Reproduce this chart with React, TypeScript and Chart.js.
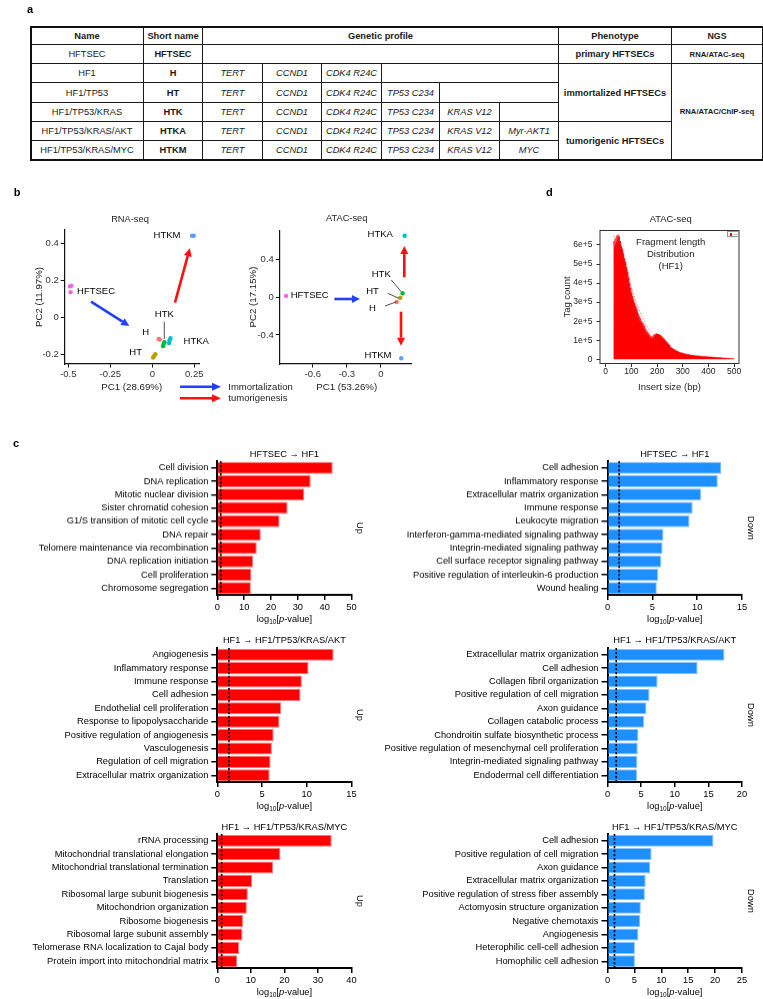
import React, { useEffect, useRef } from 'react';
import { Chart, registerables } from 'chart.js';

Chart.register(...registerables);

const FONT = '"Liberation Sans", Arial, Helvetica, sans-serif';
Chart.defaults.font.family = FONT;

/* ---------------- panel a : table ---------------- */
const tableHeaders = ['Name', 'Short name', 'Genetic profile', 'Phenotype', 'NGS'];
const lineNames = ['HFTSEC', 'HF1', 'HF1/TP53', 'HF1/TP53/KRAS', 'HF1/TP53/KRAS/AKT', 'HF1/TP53/KRAS/MYC'];
const lineShortNames = ['HFTSEC', 'H', 'HT', 'HTK', 'HTKA', 'HTKM'];
const geneProfiles = [
  [],
  ['TERT', 'CCND1', 'CDK4 R24C'],
  ['TERT', 'CCND1', 'CDK4 R24C', 'TP53 C234'],
  ['TERT', 'CCND1', 'CDK4 R24C', 'TP53 C234', 'KRAS V12'],
  ['TERT', 'CCND1', 'CDK4 R24C', 'TP53 C234', 'KRAS V12', 'Myr-AKT1'],
  ['TERT', 'CCND1', 'CDK4 R24C', 'TP53 C234', 'KRAS V12', 'MYC'],
];
const phenotypeText = ['primary HFTSECs', 'immortalized HFTSECs', 'tumorigenic HFTSECs'];
const phenotypeRows = [[0, 0], [1, 3], [4, 5]];
const ngsText = ['RNA/ATAC-seq', 'RNA/ATAC/ChIP-seq'];
const ngsRows = [[0, 0], [1, 5]];

/* ---------------- panel b : PCA ---------------- */
const groupNames = ['HFTSEC', 'H', 'HT', 'HTK', 'HTKA', 'HTKM'];
const groupColors = ['#F564E3', '#F8766D', '#B79F00', '#00BA38', '#00BFC4', '#619CFF'];

const rnaGroup = ['HFTSEC', 'HFTSEC', 'HFTSEC', 'H', 'H', 'HT', 'HT', 'HT', 'HTK', 'HTK', 'HTK', 'HTKA', 'HTKA', 'HTKA', 'HTKM', 'HTKM'];
const rnaPC1 = [-0.49, -0.482, -0.487, 0.038, 0.045, 0.005, 0.012, 0.018, 0.064, 0.068, 0.072, 0.1, 0.103, 0.108, 0.237, 0.247];
const rnaPC2 = [0.168, 0.172, 0.136, -0.117, -0.12, -0.218, -0.21, -0.2, -0.155, -0.145, -0.135, -0.14, -0.125, -0.113, 0.443, 0.443];
const rnaXTicks = [-0.5, -0.25, 0, 0.25];
const rnaYTicks = [-0.2, 0, 0.2, 0.4];

const atacGroup = ['HFTSEC', 'H', 'HT', 'HTK', 'HTKA', 'HTKM'];
const atacPC1 = [-0.835, 0.138, 0.17, 0.19, 0.208, 0.178];
const atacPC2 = [0.014, -0.05, -0.004, 0.043, 0.655, -0.648];
const atacXTicks = [-0.6, -0.3, 0];
const atacYTicks = [-0.4, 0, 0.4];

// annotation placements (data coordinates)
const rnaLabels: [string, number, number][] = [
  ['HTKM', 0.0875, 0.447], ['HFTSEC', -0.335, 0.143], ['HTK', 0.0714, 0.0168],
  ['H', -0.039, -0.083], ['HTKA', 0.262, -0.132], ['HT', -0.099, -0.1915],
];
const rnaLeaders = [[0.0714, -0.023, 0.0714, -0.117]];
const rnaArrows: [string, number, number, number, number][] = [
  ['#2140ff', -0.365, 0.085, -0.137, -0.0467],
  ['#ff1010', 0.135, 0.08, 0.224, 0.375],
];
const atacLabels: [string, number, number][] = [
  ['HTKA', -0.007, 0.67], ['HTK', 0.002, 0.24], ['HT', -0.075, 0.06],
  ['H', -0.076, -0.121], ['HTKM', -0.026, -0.62], ['HFTSEC', -0.627, 0.017],
];
const atacLeaders = [
  [0.0905, 0.184, 0.178, 0.06],
  [0.059, 0.0425, 0.158, -0.0106],
  [0.035, -0.0925, 0.132, -0.05],
];
const atacArrows: [string, number, number, number, number][] = [
  ['#2140ff', -0.41, -0.018, -0.185, -0.018],
  ['#ff1010', 0.205, 0.2125, 0.205, 0.545],
  ['#ff1010', 0.176, -0.153, 0.176, -0.514],
];

/* ---------------- panel d : fragment length ---------------- */
// counts in units of 1e5; first block every 2 bp from 30 bp, second every 5 bp from 255 bp
const fragCountA = [
  6.1, 6.2, 5.9, 6.3, 6.0, 6.4, 6.1, 6.5, 6.2, 6.55, 6.3, 6.45, 6.0, 6.2, 5.8, 5.95, 5.6, 5.8, 5.4, 5.55,
  5.15, 5.3, 4.95, 5.1, 4.7, 4.85, 4.45, 4.6, 4.1, 4.3, 3.85, 4.0, 3.6, 3.75, 3.3, 3.5, 3.05, 3.3, 2.85, 3.1,
  2.7, 2.95, 2.55, 2.8, 2.4, 2.65, 2.3, 2.5, 2.2, 2.4, 2.05, 2.25, 1.95, 2.15, 1.85, 2.0, 1.75, 1.95, 1.6, 1.85,
  1.55, 1.75, 1.45, 1.6, 1.35, 1.5, 1.3, 1.45, 1.25, 1.35, 1.15, 1.3, 1.12, 1.22, 1.08, 1.18, 1.1, 1.25, 1.15, 1.3,
  1.2, 1.32, 1.22, 1.35, 1.25, 1.33, 1.22, 1.32, 1.2, 1.3, 1.18, 1.27, 1.15, 1.22, 1.1, 1.15, 1.05, 1.1, 1.0, 1.05,
  0.95, 0.98, 0.9, 0.92, 0.85, 0.86, 0.78, 0.8, 0.72, 0.74, 0.66,
];
const fragCountB = [
  0.62, 0.58, 0.53, 0.49, 0.45, 0.42, 0.39, 0.36, 0.34, 0.32, 0.3, 0.28, 0.27, 0.25, 0.24, 0.23, 0.22, 0.21, 0.2, 0.19,
  0.185, 0.18, 0.17, 0.165, 0.16, 0.15, 0.145, 0.14, 0.135, 0.13, 0.125, 0.12, 0.115, 0.11, 0.105, 0.1, 0.095, 0.09, 0.085, 0.08,
  0.075, 0.07, 0.065, 0.06, 0.055, 0.05, 0.045, 0.04, 0.035, 0.03,
];
const envelopeBp = [30, 40, 50, 60, 70, 80, 90, 100, 110, 120, 130, 140, 150, 160, 170, 185];
const envelopeCount = [6.45, 6.45, 6.4, 6.0, 5.5, 4.95, 4.35, 3.8, 3.35, 2.95, 2.6, 2.3, 2.0, 1.75, 1.55, 1.35];
const histXTicks = [0, 100, 200, 300, 400, 500];
const histYTicks = [0, 1, 2, 3, 4, 5, 6];

/* ---------------- panel c : GO bars ---------------- */
const pCutoff = 1.3;
const c1Labels = ['Cell division', 'DNA replication', 'Mitotic nuclear division', 'Sister chromatid cohesion', 'G1/S transition of mitotic cell cycle', 'DNA repair', 'Telomere maintenance via recombination', 'DNA replication initiation', 'Cell proliferation', 'Chromosome segregation'];
const c1Values = [43.0, 34.8, 32.4, 26.2, 23.2, 16.2, 14.7, 13.3, 12.7, 12.5];
const c2Labels = ['Cell adhesion', 'Inflammatory response', 'Extracellular matrix organization', 'Immune response', 'Leukocyte migration', 'Interferon-gamma-mediated signaling pathway', 'Integrin-mediated signaling pathway', 'Cell surface receptor signaling pathway', 'Positive regulation of interleukin-6 production', 'Wound healing'];
const c2Values = [12.7, 12.3, 10.45, 9.5, 9.15, 6.25, 6.15, 6.0, 5.65, 5.5];
const c3Labels = ['Angiogenesis', 'Inflammatory response', 'Immune response', 'Cell adhesion', 'Endothelial cell proliferation', 'Response to lipopolysaccharide', 'Positive regulation of angiogenesis', 'Vasculogenesis', 'Regulation of cell migration', 'Extracellular matrix organization'];
const c3Values = [13.0, 10.2, 9.45, 9.3, 7.15, 6.95, 6.3, 6.1, 5.95, 5.85];
const c4Labels = ['Extracellular matrix organization', 'Cell adhesion', 'Collagen fibril organization', 'Positive regulation of cell migration', 'Axon guidance', 'Collagen catabolic process', 'Chondroitin sulfate biosynthetic process', 'Positive regulation of mesenchymal cell proliferation', 'Integrin-mediated signaling pathway', 'Endodermal cell differentiation'];
const c4Values = [17.4, 13.4, 7.45, 6.25, 5.8, 5.45, 4.6, 4.5, 4.45, 4.4];
const c5Labels = ['rRNA processing', 'Mitochondrial translational elongation', 'Mitochondrial translational termination', 'Translation', 'Ribosomal large subunit biogenesis', 'Mitochondrion organization', 'Ribosome biogenesis', 'Ribosomal large subunit assembly', 'Telomerase RNA localization to Cajal body', 'Protein import into mitochondrial matrix'];
const c5Values = [34.1, 18.8, 16.6, 10.4, 9.1, 8.8, 7.65, 7.5, 6.5, 5.9];
const c6Labels = ['Cell adhesion', 'Positive regulation of cell migration', 'Axon guidance', 'Extracellular matrix organization', 'Positive regulation of stress fiber assembly', 'Actomyosin structure organization', 'Negative chemotaxis', 'Angiogenesis', 'Heterophilic cell-cell adhesion', 'Homophilic cell adhesion'];
const c6Values = [19.7, 8.2, 7.95, 7.1, 6.95, 6.2, 6.1, 5.75, 5.1, 5.1];

/* ---------------- helpers ---------------- */
type Frame = { pt: number; pr: number; yw: number; xh: number };
function frame(cx: number, cy: number, cw: number, ch: number, L: number, T: number, R: number, B: number): Frame {
  return { pt: T - cy, pr: cx + cw - R, yw: L - cx, xh: cy + ch - B };
}
const fmt = (v: any) => {
  const n = Number(v);
  return n === 0 ? '0' : String(Math.round(n * 100) / 100);
};

function ChartBox({ x, y, w, h, make }: { x: number; y: number; w: number; h: number; make: () => any }) {
  const ref = useRef<HTMLCanvasElement>(null);
  useEffect(() => {
    const chart = new Chart(ref.current as HTMLCanvasElement, make());
    return () => chart.destroy();
  }, []);
  return (
    <div style={{ position: 'absolute', left: x, top: y, width: w, height: h }}>
      <canvas ref={ref} width={w} height={h} style={{ width: w, height: h, display: 'block' }} />
    </div>
  );
}

function Txt({ x, y, s = 9.3, a = 'c', b = false, r = 0, c = '#000', children }: any) {
  const tx = a === 'c' ? '-50%' : a === 'r' ? '-100%' : '0';
  return (
    <div style={{
      position: 'absolute', left: x, top: y,
      transform: `translate(${tx},-50%)` + (r ? ` rotate(${r}deg)` : ''),
      fontSize: s, fontWeight: b ? 'bold' : 'normal', color: c, whiteSpace: 'nowrap',
      lineHeight: 1, fontFamily: FONT,
    }}>{children}</div>
  );
}

/* ---------------- table ---------------- */
const colEdges = [30, 143, 202, 262, 321, 381, 439, 499, 558, 671, 762];
const rowEdges = [26, 44, 63, 82, 102, 121, 140, 159];

function Cell({ x0, x1, y0, y1, children, st }: any) {
  return (
    <div style={{
      position: 'absolute', left: x0, top: y0, width: x1 - x0 + 1, height: y1 - y0 + 1,
      boxSizing: 'border-box', border: '1px solid #1a1a1a', display: 'flex',
      alignItems: 'center', justifyContent: 'center', fontFamily: FONT, fontSize: 9.3,
      color: '#1a1a1a', whiteSpace: 'nowrap', ...st,
    }}>{children}</div>
  );
}

function Table() {
  const C = colEdges, R = rowEdges;
  const cells: any[] = [];
  const headerSpans = [[0, 1], [1, 2], [2, 8], [8, 9], [9, 10]];
  tableHeaders.forEach((h, i) => cells.push(
    <Cell key={'h' + i} x0={C[headerSpans[i][0]]} x1={C[headerSpans[i][1]]} y0={R[0]} y1={R[1]}
      st={{ fontWeight: 'bold', fontSize: i === 4 ? 8.8 : 9.3 }}>{h}</Cell>));
  lineNames.forEach((n, i) => {
    const y0 = R[i + 1], y1 = R[i + 2];
    cells.push(<Cell key={'n' + i} x0={C[0]} x1={C[1]} y0={y0} y1={y1}>{n}</Cell>);
    cells.push(<Cell key={'s' + i} x0={C[1]} x1={C[2]} y0={y0} y1={y1} st={{ fontWeight: 'bold' }}>{lineShortNames[i]}</Cell>);
    const g = geneProfiles[i];
    g.forEach((gn, j) => cells.push(
      <Cell key={'g' + i + '_' + j} x0={C[2 + j]} x1={C[3 + j]} y0={y0} y1={y1} st={{ fontStyle: 'italic' }}>{gn}</Cell>));
    if (g.length < 6) cells.push(<Cell key={'e' + i} x0={C[2 + g.length]} x1={C[8]} y0={y0} y1={y1} />);
  });
  phenotypeText.forEach((t, k) => cells.push(
    <Cell key={'p' + k} x0={C[8]} x1={C[9]} y0={R[phenotypeRows[k][0] + 1]} y1={R[phenotypeRows[k][1] + 2]}
      st={{ fontWeight: 'bold' }}>{t}</Cell>));
  ngsText.forEach((t, k) => cells.push(
    <Cell key={'q' + k} x0={C[9]} x1={C[10]} y0={R[ngsRows[k][0] + 1]} y1={R[ngsRows[k][1] + 2]}
      st={{ fontWeight: 'bold', fontSize: 7.7 }}>{t}</Cell>));
  return (
    <>
      {cells}
      <div style={{
        position: 'absolute', left: C[0] - 0.5, top: R[0] - 0.5, width: C[10] - C[0] + 2, height: R[7] - R[0] + 2,
        boxSizing: 'border-box', border: '2px solid #111',
      }} />
    </>
  );
}

/* ---------------- chart configs ---------------- */
function annotPlugin(labels: [string, number, number][], leaders: number[][], arrows: [string, number, number, number, number][]) {
  return {
    id: 'annot',
    afterDatasetsDraw(chart: any) {
      const { ctx, scales } = chart;
      const px = (v: number) => scales.x.getPixelForValue(v);
      const py = (v: number) => scales.y.getPixelForValue(v);
      ctx.save();
      ctx.strokeStyle = '#222';
      ctx.lineWidth = 0.8;
      leaders.forEach((l) => {
        ctx.beginPath();
        ctx.moveTo(px(l[0]), py(l[1]));
        ctx.lineTo(px(l[2]), py(l[3]));
        ctx.stroke();
      });
      ctx.font = `9.5px ${FONT}`;
      ctx.fillStyle = '#000';
      ctx.textAlign = 'center';
      ctx.textBaseline = 'middle';
      labels.forEach((l) => ctx.fillText(l[0], px(l[1]), py(l[2])));
      arrows.forEach((a) => {
        const x1 = px(a[1]), y1 = py(a[2]), x2 = px(a[3]), y2 = py(a[4]);
        const ang = Math.atan2(y2 - y1, x2 - x1);
        const hl = 8, hw = 4;
        const bx = x2 - hl * Math.cos(ang), by = y2 - hl * Math.sin(ang);
        ctx.strokeStyle = a[0];
        ctx.fillStyle = a[0];
        ctx.lineWidth = 2.6;
        ctx.beginPath();
        ctx.moveTo(x1, y1);
        ctx.lineTo(bx, by);
        ctx.stroke();
        ctx.beginPath();
        ctx.moveTo(x2, y2);
        ctx.lineTo(bx + hw * Math.sin(ang), by - hw * Math.cos(ang));
        ctx.lineTo(bx - hw * Math.sin(ang), by + hw * Math.cos(ang));
        ctx.closePath();
        ctx.fill();
      });
      ctx.restore();
    },
  };
}

function scatterConfig(grp: string[], pc1: number[], pc2: number[], xt: number[], yt: number[],
  xr: [number, number], yr: [number, number], f: Frame, plugin: any) {
  const tickFont = { family: FONT, size: 9.5 };
  const grid = { drawOnChartArea: false, drawTicks: true, tickLength: 3.5, color: '#111', lineWidth: 1 };
  const border = { display: true, color: '#111', width: 1.2 };
  return {
    type: 'scatter',
    data: {
      datasets: groupNames.map((g, k) => ({
        label: g,
        data: grp.map((gg, i) => (gg === g ? { x: pc1[i], y: pc2[i] } : null)).filter(Boolean),
        backgroundColor: groupColors[k],
        borderWidth: 0,
        pointRadius: 2.2,
      })),
    },
    options: {
      animation: false, responsive: false, devicePixelRatio: 1,
      layout: { padding: { top: f.pt, right: f.pr, left: 0, bottom: 0 } },
      plugins: { legend: { display: false }, tooltip: { enabled: false } },
      scales: {
        x: {
          type: 'linear', min: xr[0], max: xr[1],
          afterBuildTicks: (s: any) => { s.ticks = xt.map((v) => ({ value: v })); },
          ticks: { callback: fmt, font: tickFont, color: '#333', padding: 1, maxRotation: 0, autoSkip: false },
          grid, border,
          afterFit: (s: any) => { s.height = f.xh; },
        },
        y: {
          type: 'linear', min: yr[0], max: yr[1],
          afterBuildTicks: (s: any) => { s.ticks = yt.map((v) => ({ value: v })); },
          ticks: { callback: fmt, font: tickFont, color: '#333', padding: 2, autoSkip: false },
          grid, border,
          afterFit: (s: any) => { s.width = f.yw; },
        },
      },
    },
    plugins: [plugin],
  };
}

const cutoffPlugin = {
  id: 'cutoff',
  afterDatasetsDraw(chart: any) {
    const { ctx, chartArea, scales } = chart;
    const x = scales.x.getPixelForValue(pCutoff);
    ctx.save();
    ctx.beginPath();
    ctx.setLineDash([2.2, 1.8]);
    ctx.lineWidth = 1.6;
    ctx.strokeStyle = '#000';
    ctx.moveTo(x, chartArea.top);
    ctx.lineTo(x, chartArea.bottom);
    ctx.stroke();
    ctx.restore();
  },
};

function barConfig(labels: string[], values: number[], max: number, step: number, color: string, edge: string, f: Frame) {
  const font = { family: FONT, size: 9.3 };
  return {
    type: 'bar',
    data: {
      labels,
      datasets: [{
        data: values, backgroundColor: color, borderColor: edge, borderWidth: 1,
        barPercentage: 0.9, categoryPercentage: 1,
      }],
    },
    options: {
      indexAxis: 'y', animation: false, responsive: false, devicePixelRatio: 1,
      layout: { padding: { top: f.pt, right: f.pr, left: 0, bottom: 0 } },
      plugins: { legend: { display: false }, tooltip: { enabled: false } },
      scales: {
        x: {
          type: 'linear', position: 'bottom', min: 0, max,
          ticks: { stepSize: step, font, color: '#000', padding: 2, maxRotation: 0 },
          grid: { drawOnChartArea: false, drawTicks: true, tickLength: 5, color: '#000', lineWidth: 1.5 },
          border: { display: true, color: '#000', width: 2 },
          afterFit: (s: any) => { s.height = f.xh; },
        },
        y: {
          type: 'category', position: 'left',
          ticks: { autoSkip: false, font, color: '#000', padding: 3 },
          grid: { offset: false, drawOnChartArea: false, drawTicks: true, tickLength: 6, color: '#000', lineWidth: 1.5 },
          border: { display: true, color: '#000', width: 2 },
          afterFit: (s: any) => { s.width = f.yw; },
        },
      },
    },
    plugins: [cutoffPlugin],
  };
}

const boxPlugin = {
  id: 'box',
  afterDraw(chart: any) {
    const { ctx, chartArea: a } = chart;
    ctx.save();
    ctx.strokeStyle = '#333';
    ctx.lineWidth = 1;
    ctx.strokeRect(a.left, a.top, a.right - a.left, a.bottom - a.top);
    ctx.restore();
  },
};

function histConfig(f: Frame) {
  const pts = [
    ...fragCountA.map((v, i) => ({ x: 30 + 2 * i, y: v })),
    ...fragCountB.map((v, i) => ({ x: 255 + 5 * i, y: v })),
  ];
  const tickFont = { family: FONT, size: 8.5 };
  const grid = { drawOnChartArea: false, drawTicks: true, tickLength: 3.5, color: '#333', lineWidth: 1 };
  return {
    type: 'line',
    data: {
      datasets: [
        {
          data: pts, fill: 'origin', backgroundColor: '#ff0000', borderColor: '#ff0000',
          borderWidth: 0.6, pointRadius: 0, tension: 0,
        },
        {
          data: envelopeBp.map((x, i) => ({ x, y: envelopeCount[i] })), fill: false,
          borderColor: 'rgba(235,60,60,0.9)', borderWidth: 0.8, borderDash: [1.2, 1.8], pointRadius: 0,
        },
      ],
    },
    options: {
      animation: false, responsive: false, devicePixelRatio: 1,
      layout: { padding: { top: f.pt, right: f.pr, left: 0, bottom: 0 } },
      plugins: { legend: { display: false }, tooltip: { enabled: false } },
      scales: {
        x: {
          type: 'linear', min: -22, max: 519,
          afterBuildTicks: (s: any) => { s.ticks = histXTicks.map((v) => ({ value: v })); },
          ticks: { font: tickFont, color: '#222', padding: 0, maxRotation: 0, autoSkip: false },
          grid, border: { display: false },
          afterFit: (s: any) => { s.height = f.xh; },
        },
        y: {
          type: 'linear', min: -0.22, max: 6.76,
          afterBuildTicks: (s: any) => { s.ticks = histYTicks.map((v) => ({ value: v })); },
          ticks: { font: tickFont, color: '#222', padding: 4, autoSkip: false, callback: (v: any) => (Number(v) === 0 ? '0' : v + 'e+5') },
          grid, border: { display: false },
          afterFit: (s: any) => { s.width = f.yw; },
        },
      },
    },
    plugins: [boxPlugin],
  };
}

/* ---------------- layout ---------------- */
const barRows = [[461.3, 595.3], [647.5, 781.5], [834, 968]];
const leftPlot = [217.3, 351.5];
const rightPlot = [607.5, 742];
const barTitles = [
  ['HFTSEC \u2192 HF1', 'HFTSEC \u2192 HF1'],
  ['HF1 \u2192 HF1/TP53/KRAS/AKT', 'HF1 \u2192 HF1/TP53/KRAS/AKT'],
  ['HF1 \u2192 HF1/TP53/KRAS/MYC', 'HF1 \u2192 HF1/TP53/KRAS/MYC'],
];
const barSets = [
  [[c1Labels, c1Values, 50, 10], [c2Labels, c2Values, 15, 5]],
  [[c3Labels, c3Values, 15, 5], [c4Labels, c4Values, 20, 5]],
  [[c5Labels, c5Values, 40, 10], [c6Labels, c6Values, 25, 5]],
] as any[];

function LogTitle({ x, y }: { x: number; y: number }) {
  return (
    <Txt x={x} y={y} s={9.3}>
      log<span style={{ fontSize: 6.5, verticalAlign: -2 }}>10</span>[<i>p</i>-value]
    </Txt>
  );
}

export default function App() {
  const rnaF = frame(40, 220, 178, 164, 64.3, 230, 199.3, 364);
  const atacF = frame(250, 220, 182, 164, 279.3, 230.7, 411.7, 364);
  const histF = frame(568, 220, 195, 164, 600, 230.5, 739, 363.5);

  const bars: any[] = [];
  const barText: any[] = [];
  barRows.forEach(([T, B], r) => {
    [0, 1].forEach((side) => {
      const [labels, values, max, step] = barSets[r][side];
      const cx = side === 0 ? 0 : 372;
      const cw = side === 0 ? 372 : 391;
      const P = side === 0 ? leftPlot : rightPlot;
      const cy = T - 10;
      const ch = B + 22 - cy;
      const f = frame(cx, cy, cw, ch, P[0], T, P[1], B);
      const color = side === 0 ? '#ff0000' : '#1e8fff';
      const edge = side === 0 ? '#ff7a7a' : '#8cc6ff';
      bars.push(
        <ChartBox key={`bar${r}${side}`} x={cx} y={cy} w={cw} h={ch}
          make={() => barConfig(labels, values, max, step, color, edge, f)} />,
      );
      const mid = (P[0] + P[1]) / 2;
      barText.push(<Txt key={`bt${r}${side}`} x={mid} y={T - 6.5}>{barTitles[r][side]}</Txt>);
      barText.push(<LogTitle key={`bl${r}${side}`} x={mid} y={B + 25} />);
      barText.push(
        <Txt key={`bs${r}${side}`} x={side === 0 ? 358.5 : 750} y={(T + B) / 2} r={90}>{side === 0 ? 'Up' : 'Down'}</Txt>,
      );
    });
  });

  return (
    <div style={{ position: 'absolute', left: 0, top: 0, width: 763, height: 999, background: '#fff', overflow: 'hidden', fontFamily: FONT }}>
      <Table />

      <ChartBox x={40} y={220} w={178} h={164}
        make={() => scatterConfig(rnaGroup, rnaPC1, rnaPC2, rnaXTicks, rnaYTicks, [-0.524, 0.28], [-0.253, 0.474], rnaF, annotPlugin(rnaLabels, rnaLeaders, rnaArrows))} />
      <ChartBox x={250} y={220} w={182} h={164}
        make={() => scatterConfig(atacGroup, atacPC1, atacPC2, atacXTicks, atacYTicks, [-0.894, 0.27], [-0.709, 0.708], atacF, annotPlugin(atacLabels, atacLeaders, atacArrows))} />
      <ChartBox x={568} y={220} w={195} h={164} make={() => histConfig(histF)} />

      {bars}

      <svg width={763} height={999} style={{ position: 'absolute', left: 0, top: 0, pointerEvents: 'none' }}>
        <line x1={180} y1={386.7} x2={213} y2={386.7} stroke="#2140ff" strokeWidth={2.6} />
        <polygon points="212,382.7 221,386.7 212,390.7" fill="#2140ff" />
        <line x1={180} y1={398.3} x2={213} y2={398.3} stroke="#ff1010" strokeWidth={2.6} />
        <polygon points="212,394.3 221,398.3 212,402.3" fill="#ff1010" />
      </svg>

      {/* panel letters */}
      <Txt x={30} y={9} s={11} b>a</Txt>
      <Txt x={17} y={192.3} s={11} b>b</Txt>
      <Txt x={16} y={443.3} s={11} b>c</Txt>
      <Txt x={549.3} y={192.3} s={11} b>d</Txt>

      {/* panel b texts */}
      <Txt x={130} y={220} s={9.3} c="#222">RNA-seq</Txt>
      <Txt x={346.7} y={219.3} s={9.3} c="#222">ATAC-seq</Txt>
      <Txt x={39} y={296.7} s={9.7} r={-90} c="#222">PC2 (11.97%)</Txt>
      <Txt x={131.7} y={386.7} s={9.7} c="#222">PC1 (28.69%)</Txt>
      <Txt x={253.3} y={296.7} s={9.7} r={-90} c="#222">PC2 (17.15%)</Txt>
      <Txt x={346.7} y={386.7} s={9.7} c="#222">PC1 (53.26%)</Txt>
      <Txt x={228.3} y={386.7} s={9.5} a="l" c="#222">Immortalization</Txt>
      <Txt x={228.3} y={398.3} s={9.5} a="l" c="#222">tumorigenesis</Txt>

      {/* panel d texts */}
      <Txt x={670.7} y={219.3} s={9.4} c="#222">ATAC-seq</Txt>
      <Txt x={566.7} y={296.7} s={9.5} r={-90} c="#222">Tag count</Txt>
      <Txt x={669.5} y={386.7} s={9.5} c="#222">Insert size (bp)</Txt>
      <Txt x={670.7} y={241.7} s={9.5} c="#222">Fragment length</Txt>
      <Txt x={670.7} y={253.5} s={9.5} c="#222">Distribution</Txt>
      <Txt x={670.7} y={265.7} s={9.5} c="#222">(HF1)</Txt>
      <div style={{ position: 'absolute', left: 727, top: 231, width: 12, height: 6, boxSizing: 'border-box', border: '0.5px solid #999', background: '#fff' }}>
        <div style={{ position: 'absolute', left: 1.5, top: 1.2, width: 2.5, height: 2.5, background: '#ff0000' }} />
        <div style={{ position: 'absolute', left: 5.5, top: 2.3, width: 4.5, height: 0.6, background: '#bbb' }} />
      </div>

      {barText}
    </div>
  );
}
